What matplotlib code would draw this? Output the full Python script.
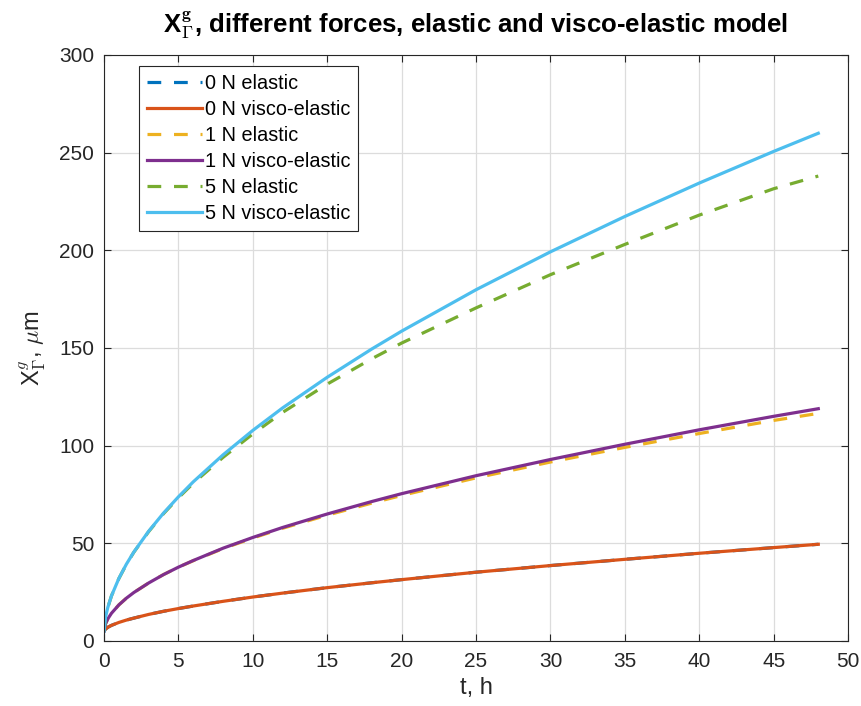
import matplotlib.pyplot as plt

plt.rcParams['font.family'] = ['Liberation Sans', 'DejaVu Sans']
plt.rcParams['mathtext.fontset'] = 'cm'

# time, hours
t = [0, 0.1, 0.25, 0.5, 1, 1.5, 2, 3, 4, 5, 6, 8, 10, 12, 15, 18, 20, 25, 30, 35, 40, 45, 48]

# interface position, micrometres
el_0N = [5, 6.1, 7.0, 8.0, 9.5, 10.7, 11.7, 13.6, 15.2, 16.6, 17.9, 20.3, 22.5, 24.5, 27.3,
         29.8, 31.4, 35.2, 38.6, 41.8, 44.9, 47.8, 49.5]
ve_0N = [5, 6.1, 7.0, 8.0, 9.5, 10.7, 11.7, 13.6, 15.2, 16.6, 17.9, 20.3, 22.5, 24.5, 27.3,
         29.8, 31.4, 35.2, 38.6, 41.8, 44.9, 47.8, 49.5]
el_1N = [5, 8.8, 11.3, 14.2, 18.5, 21.9, 24.8, 29.7, 34.0, 37.8, 41.1, 47.3, 52.7, 57.7, 64.4,
         70.6, 74.5, 83.5, 91.6, 99.1, 106.2, 112.9, 116.5]
ve_1N = [5, 8.8, 11.3, 14.2, 18.5, 21.9, 24.8, 29.7, 34.0, 37.8, 41.2, 47.5, 53.0, 58.1, 65.0,
         71.4, 75.4, 84.6, 92.9, 100.7, 108.1, 115.0, 118.9]
el_5N = [5, 12.2, 17.1, 23.1, 32.0, 39.2, 45.4, 56.0, 65.2, 73.3, 80.8, 94.0, 106.0, 117.0, 131.5,
         144.5, 152.5, 170.5, 187.5, 203.0, 218.0, 231.5, 238.0]
ve_5N = [5, 12.2, 17.1, 23.1, 32.1, 39.3, 45.5, 56.2, 65.5, 73.8, 81.5, 95.3, 107.8, 119.3, 135.0,
         149.5, 158.6, 179.8, 199.2, 217.3, 234.4, 250.6, 259.9]

fig = plt.figure(figsize=(8.62, 7.06), dpi=100)
ax = fig.add_axes([0.1207, 0.0921, 0.8631, 0.8301])

lw = 2.3
dash = (0, (4.3, 4.0))
ax.plot(t, el_0N, color='#0072BD', lw=lw, ls=dash, label='0 N elastic')
ax.plot(t, ve_0N, color='#D95319', lw=lw, label='0 N visco-elastic')
ax.plot(t, el_1N, color='#EDB120', lw=lw, ls=dash, label='1 N elastic')
ax.plot(t, ve_1N, color='#7E2F8E', lw=lw, label='1 N visco-elastic')
ax.plot(t, el_5N, color='#77AC30', lw=lw, ls=dash, label='5 N elastic')
ax.plot(t, ve_5N, color='#4DBEEE', lw=lw, label='5 N visco-elastic')

ax.set_xlim(0, 50)
ax.set_ylim(0, 300)
ax.set_xticks(range(0, 51, 5))
ax.set_yticks(range(0, 301, 50))
ax.grid(True, color='#dcdcdc', lw=0.9)
ax.set_axisbelow(True)
ax.tick_params(direction='in', length=5, width=0.8, colors='#262626', labelsize=15,
               top=True, right=True)
ax.tick_params(axis='x', pad=8)
ax.tick_params(axis='y', pad=7)
for s in ax.spines.values():
    s.set_color('#262626')
    s.set_linewidth(0.8)

ax.set_xlabel('t, h', fontsize=17, color='#262626', labelpad=4)
ax.set_ylabel(r'X$_\Gamma^g$, $\mu$m', fontsize=17, color='#262626', labelpad=8)
ax.set_title(r'X$_\mathbf{\Gamma}^\mathbf{g}$, different forces, elastic and visco-elastic model',
             fontsize=18.5, fontweight='bold', color='black', pad=16)

leg = ax.legend(loc='upper left', bbox_to_anchor=(0.047, 0.981), fontsize=14.3,
                fancybox=False, framealpha=1, edgecolor='#262626', borderaxespad=0,
                handlelength=2.8, handletextpad=0.15, labelspacing=0.36, borderpad=0.38)
leg.get_frame().set_linewidth(0.8)

fig.savefig('out.png', dpi=100)
